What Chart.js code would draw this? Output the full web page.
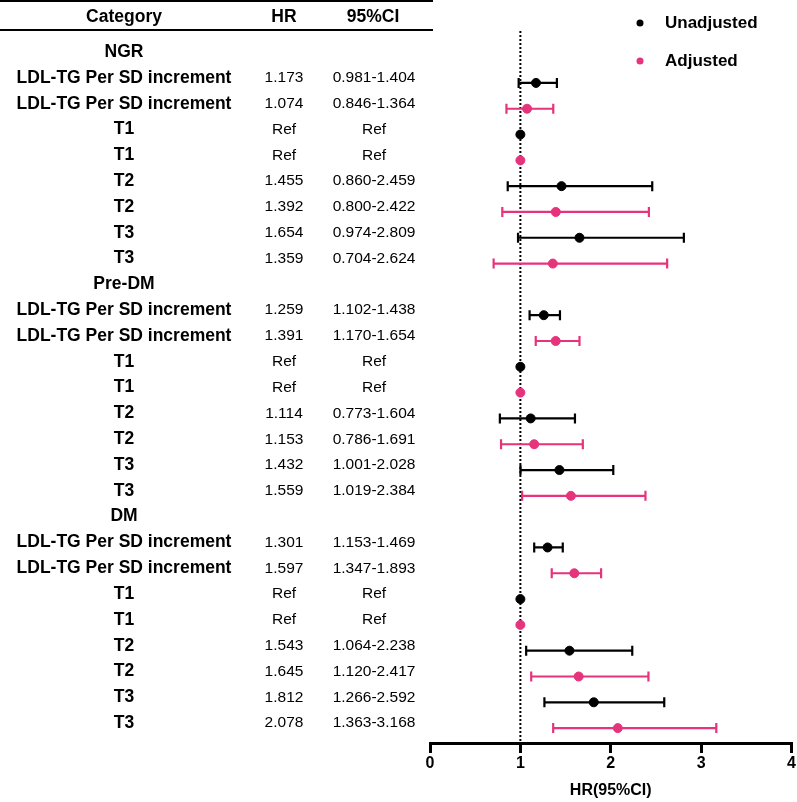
<!DOCTYPE html>
<html lang="en">
<head>
<meta charset="UTF-8">
<title>LDL-TG forest plot</title>
<script src="https://cdn.jsdelivr.net/npm/chart.js"></script>
<style>
  html, body { margin: 0; padding: 0; background: #fff; }
  #wrap { width: 797px; height: 802px; }
</style>
</head>
<body>
<div id="wrap"><canvas id="chart"></canvas></div>
<script>
// data
var groups = ['NGR', 'Pre-DM', 'DM'];
var rowNames = ['LDL-TG Per SD increment', 'T1', 'T2', 'T3'];
var unadjHR   = [1.173, 1, 1.455, 1.654, 1.259, 1, 1.114, 1.432, 1.301, 1, 1.543, 1.812];
var unadjLow  = [0.981, null, 0.860, 0.974, 1.102, null, 0.773, 1.001, 1.153, null, 1.064, 1.266];
var unadjHigh = [1.404, null, 2.459, 2.809, 1.438, null, 1.604, 2.028, 1.469, null, 2.238, 2.592];
var adjHR     = [1.074, 1, 1.392, 1.359, 1.391, 1, 1.153, 1.559, 1.597, 1, 1.645, 2.078];
var adjLow    = [0.846, null, 0.800, 0.704, 1.170, null, 0.786, 1.019, 1.347, null, 1.120, 1.363];
var adjHigh   = [1.364, null, 2.422, 2.624, 1.654, null, 1.691, 2.384, 1.893, null, 2.417, 3.168];
var xTicks = [0, 1, 2, 3, 4];

var BLACK = '#000000';
var PINK = '#e5337c';

// build rows: group header, then unadjusted / adjusted pairs
function rowsFor(hr, lo, hi, offset) {
    var out = [];
    for (var i = 0; i < hr.length; i++) {
        var g = Math.floor(i / rowNames.length), k = i % rowNames.length;
        out.push({ x: hr[i], y: g * 9 + 1 + 2 * k + offset, lo: lo[i], hi: hi[i], name: rowNames[k] });
    }
    return out;
}
var unadjRows = rowsFor(unadjHR, unadjLow, unadjHigh, 0);
var adjRows = rowsFor(adjHR, adjLow, adjHigh, 1);

var FONT = '"Liberation Sans", Arial, sans-serif';
var TEXT_SHIFT = -5; // table text sits a little above the markers

// error bars + reference line + table text + legend
var forestPlugin = {
    id: 'forest',
    beforeDatasetsDraw: function(chart) {
        var ctx = chart.ctx, xs = chart.scales.x, ys = chart.scales.y, ca = chart.chartArea;
        // dotted line at HR = 1
        ctx.save();
        ctx.strokeStyle = '#000';
        ctx.lineWidth = 2;
        ctx.setLineDash([2, 2]);
        var x1 = xs.getPixelForValue(1);
        ctx.beginPath();
        ctx.moveTo(x1, 31);
        ctx.lineTo(x1, ca.bottom);
        ctx.stroke();
        ctx.setLineDash([]);
        // error bars
        chart.data.datasets.forEach(function(ds) {
            ctx.strokeStyle = ds.backgroundColor;
            ctx.lineWidth = 2.2;
            ds.data.forEach(function(d) {
                if (d.lo == null) return;
                var y = ys.getPixelForValue(d.y);
                var a = xs.getPixelForValue(d.lo), b = xs.getPixelForValue(d.hi);
                ctx.beginPath();
                ctx.moveTo(a, y); ctx.lineTo(b, y);
                ctx.moveTo(a, y - 5); ctx.lineTo(a, y + 5);
                ctx.moveTo(b, y - 5); ctx.lineTo(b, y + 5);
                ctx.stroke();
            });
        });
        ctx.restore();
    },
    afterDraw: function(chart) {
        var ctx = chart.ctx, ys = chart.scales.y;
        ctx.save();
        ctx.fillStyle = '#000';
        ctx.textBaseline = 'middle';
        ctx.textAlign = 'center';
        // table rules
        ctx.fillRect(0, 0, 433, 2);
        ctx.fillRect(0, 29, 433, 2);
        ctx.font = 'bold 17.5px ' + FONT;
        ctx.fillText('Category', 124, 17);
        ctx.fillText('HR', 284, 17);
        ctx.fillText('95%CI', 373, 17);
        groups.forEach(function(g, i) {
            ctx.font = 'bold 17.5px ' + FONT;
            ctx.fillText(g, 124, ys.getPixelForValue(i * 9) + TEXT_SHIFT);
        });
        unadjRows.concat(adjRows).forEach(function(d) {
            var y = ys.getPixelForValue(d.y) + TEXT_SHIFT;
            ctx.font = 'bold 17.5px ' + FONT;
            ctx.fillText(d.name, 124, y);
            ctx.font = '15.5px ' + FONT;
            if (d.lo == null) {
                ctx.fillText('Ref', 284, y);
                ctx.fillText('Ref', 374, y);
            } else {
                ctx.fillText(d.x.toFixed(3), 284, y);
                ctx.fillText(d.lo.toFixed(3) + '-' + d.hi.toFixed(3), 374, y);
            }
        });
        // legend
        ctx.font = 'bold 17px ' + FONT;
        ctx.textAlign = 'left';
        [['Unadjusted', BLACK, 23], ['Adjusted', PINK, 61]].forEach(function(l) {
            ctx.fillStyle = l[1];
            ctx.beginPath();
            ctx.arc(640, l[2], 3.5, 0, Math.PI * 2);
            ctx.fill();
            ctx.fillStyle = '#000';
            ctx.fillText(l[0], 665, l[2]);
        });
        ctx.restore();
    }
};

var chart = new Chart(document.getElementById('chart').getContext('2d'), {
    type: 'scatter',
    data: {
        datasets: [
            { label: 'Unadjusted', data: unadjRows, backgroundColor: BLACK, borderColor: BLACK, pointRadius: 4.5, pointHoverRadius: 4.5 },
            { label: 'Adjusted', data: adjRows, backgroundColor: PINK, borderColor: PINK, pointRadius: 4.5, pointHoverRadius: 4.5 }
        ]
    },
    options: {
        responsive: true,
        maintainAspectRatio: false,
        animation: false,
        layout: { padding: { left: 430, right: 3, top: 0, bottom: 0 } },
        plugins: { legend: { display: false }, tooltip: { enabled: false } },
        scales: {
            x: {
                type: 'linear',
                min: 0, max: 4,
                afterBuildTicks: function(s) { s.ticks = xTicks.map(function(v) { return { value: v }; }); },
                afterFit: function(s) { s.height = 59; },
                border: { display: true, color: '#000', width: 3 },
                grid: { drawOnChartArea: false, drawTicks: true, tickLength: 10, color: '#000', lineWidth: 3 },
                ticks: { color: '#000', padding: 1, font: { family: FONT, size: 16, weight: 'bold' } },
                title: { display: true, text: 'HR(95%CI)', color: '#000', padding: { top: 0, bottom: 2 },
                         font: { family: FONT, size: 16, weight: 'bold' } }
            },
            y: {
                type: 'linear',
                display: false,
                reverse: true,
                min: -2,
                max: (743 - 52) / 26
            }
        }
    },
    plugins: [forestPlugin]
});
</script>
</body>
</html>
